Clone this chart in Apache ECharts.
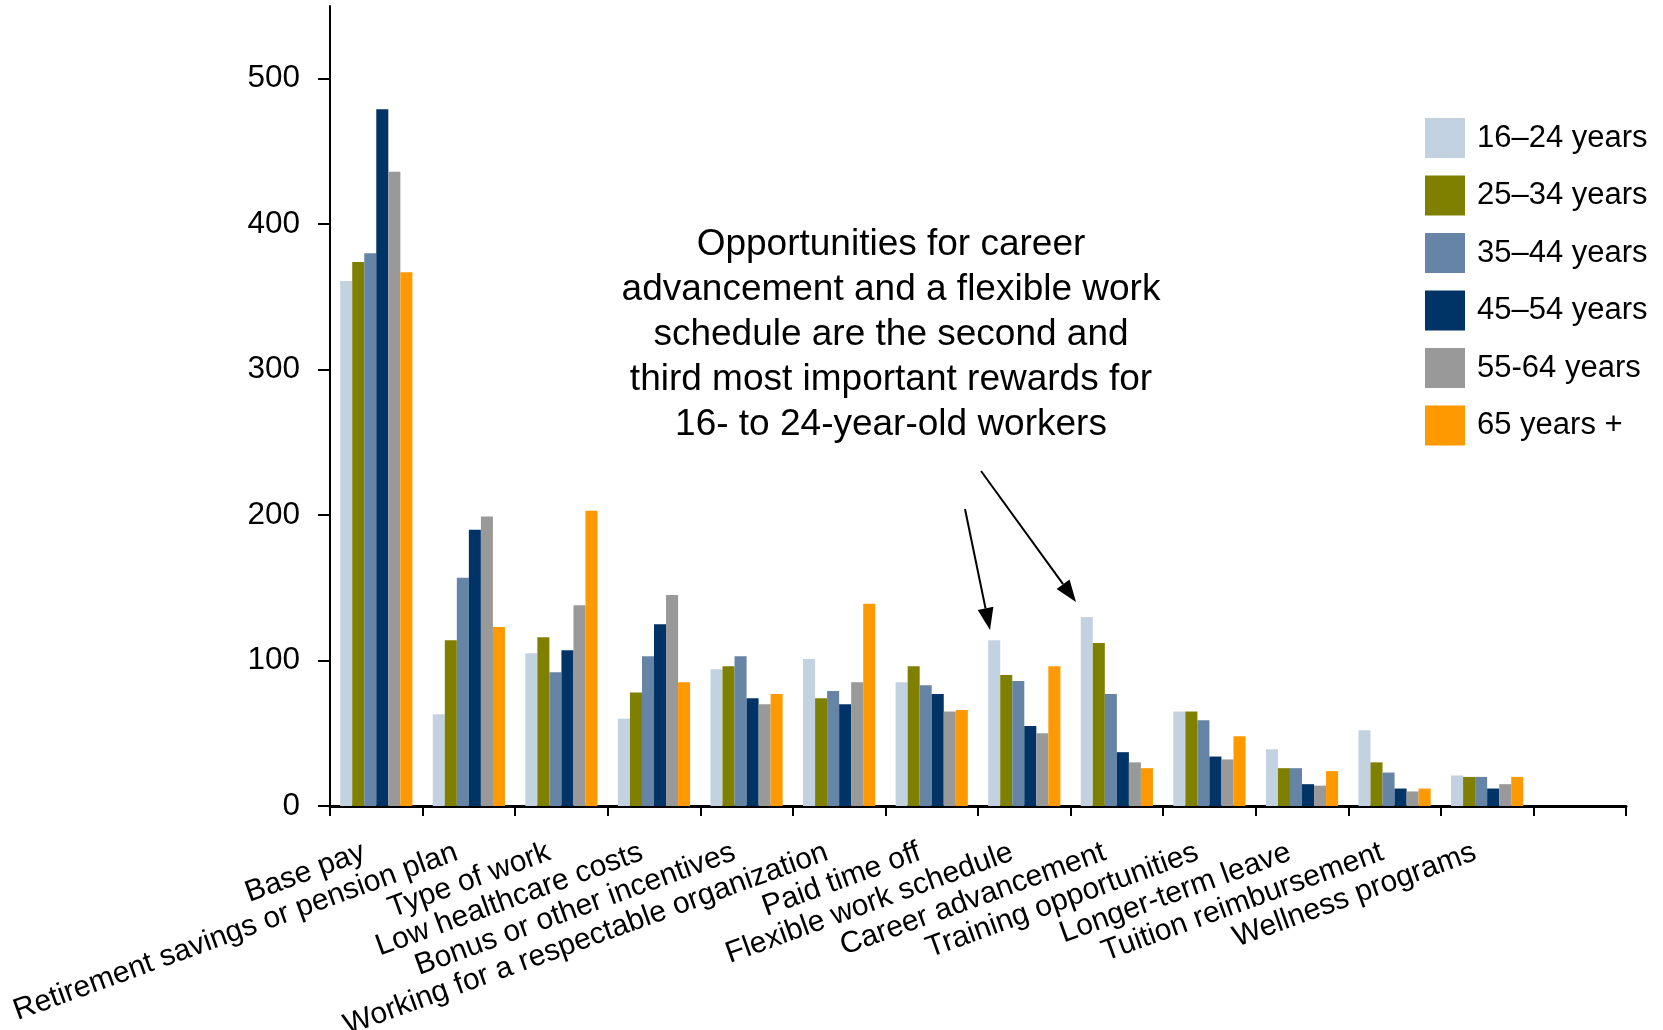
<!DOCTYPE html>
<html>
<head>
<meta charset="utf-8">
<script src="https://cdn.jsdelivr.net/npm/echarts@6/dist/echarts.min.js"></script>
<style>
  html, body { margin: 0; padding: 0; background: #fff; }
  #chart { width: 1663px; height: 1030px; }
</style>
</head>
<body>
<div id="chart"></div>
<script>
// categories (last one is an empty slot, as in the original)
const categories = [
  'Base pay',
  'Retirement savings or pension plan',
  'Type of work',
  'Low healthcare costs',
  'Bonus or other incentives',
  'Working for a respectable organization',
  'Paid time off',
  'Flexible work schedule',
  'Career advancement',
  'Training opportunities',
  'Longer-term leave',
  'Tuition reimbursement',
  'Wellness programs',
  ''
]

const ageGroups = ['16–24 years', '25–34 years', '35–44 years', '45–54 years', '55-64 years', '65 years +']
const colors = ['#c3d2e1', '#808000', '#6685a6', '#003366', '#999999', '#ff9900']

const age1624 = [361, 63, 105, 60, 94, 101, 85, 114, 130, 65, 39, 52, 21, null]
const age2534 = [374, 114, 116, 78, 96, 74, 96, 90, 112, 65, 26, 30, 20, null]
const age3544 = [380, 157, 92, 103, 103, 79, 83, 86, 77, 59, 26, 23, 20, null]
const age4554 = [479, 190, 107, 125, 74, 70, 77, 55, 37, 34, 15, 12, 12, null]
const age5564 = [436, 199, 138, 145, 70, 85, 65, 50, 30, 32, 14, 10, 15, null]
const age65 = [367, 123, 203, 85, 77, 139, 66, 96, 26, 48, 24, 12, 20, null]

const yTicks = [0, 100, 200, 300, 400, 500]

const seriesData = [age1624, age2534, age3544, age4554, age5564, age65]

const FONT = "'Liberation Sans', Arial, sans-serif"

const note = [
  'Opportunities for career',
  'advancement and a flexible work',
  'schedule are the second and',
  'third most important rewards for',
  '16- to 24-year-old workers'
].join('\n')

// arrow with a filled head, pointing from (x1,y1) to (x2,y2)
const arrow = (x1, y1, x2, y2) => {
  const len = 22, half = 8
  const dx = x2 - x1, dy = y2 - y1
  const d = Math.sqrt(dx * dx + dy * dy)
  const ux = dx / d, uy = dy / d
  const bx = x2 - ux * len, by = y2 - uy * len
  return [
    {
      type: 'line',
      shape: { x1: x1, y1: y1, x2: bx, y2: by },
      style: { stroke: '#000', lineWidth: 2 }
    },
    {
      type: 'polygon',
      shape: { points: [[x2, y2], [bx - uy * half, by + ux * half], [bx + uy * half, by - ux * half]] },
      style: { fill: '#000' }
    }
  ]
}

const chart = echarts.init(document.getElementById('chart'))

chart.setOption({
  animation: false,
  color: colors,
  textStyle: { fontFamily: FONT, color: '#000' },
  grid: {
    left: 330,
    right: 37,
    top: 6,
    bottom: 224,
    containLabel: false,
    outerBoundsMode: 'none'
  },
  legend: {
    data: ageGroups,
    orient: 'vertical',
    left: 1420,
    top: 113,
    icon: 'rect',
    itemWidth: 40,
    itemHeight: 40,
    itemGap: 17.5,
    textStyle: {
      fontFamily: FONT,
      fontSize: 31,
      color: '#000',
      padding: [0, 0, 0, 7]
    }
  },
  xAxis: {
    type: 'category',
    data: categories,
    axisLine: { show: true, lineStyle: { color: '#000', width: 3 } },
    axisTick: { show: true, length: 10, lineStyle: { color: '#000', width: 2 } },
    axisLabel: {
      interval: 0,
      rotate: 20,
      margin: 41,
      padding: [0, 13, 0, 0],
      fontFamily: FONT,
      fontSize: 30,
      color: '#000'
    }
  },
  yAxis: {
    type: 'value',
    min: 0,
    max: 550,
    interval: 50,
    splitLine: { show: false },
    axisLine: { show: true, lineStyle: { color: '#000', width: 2 } },
    axisTick: {
      show: true,
      length: 12,
      customValues: yTicks,
      lineStyle: { color: '#000', width: 2 }
    },
    axisLabel: {
      customValues: yTicks,
      margin: 30,
      fontFamily: FONT,
      fontSize: 31.5,
      color: '#000'
    }
  },
  series: ageGroups.map((name, i) => ({
    name: name,
    type: 'bar',
    data: seriesData[i],
    barGap: '0%',
    barCategoryGap: '22%'
  })),
  graphic: [
    {
      type: 'text',
      x: 891,
      y: 222,
      style: {
        text: note,
        textAlign: 'center',
        font: '37px ' + FONT,
        lineHeight: 45,
        fill: '#000'
      }
    },
    ...arrow(965, 509, 990, 630),
    ...arrow(981, 471, 1076, 602)
  ]
})
</script>
</body>
</html>
